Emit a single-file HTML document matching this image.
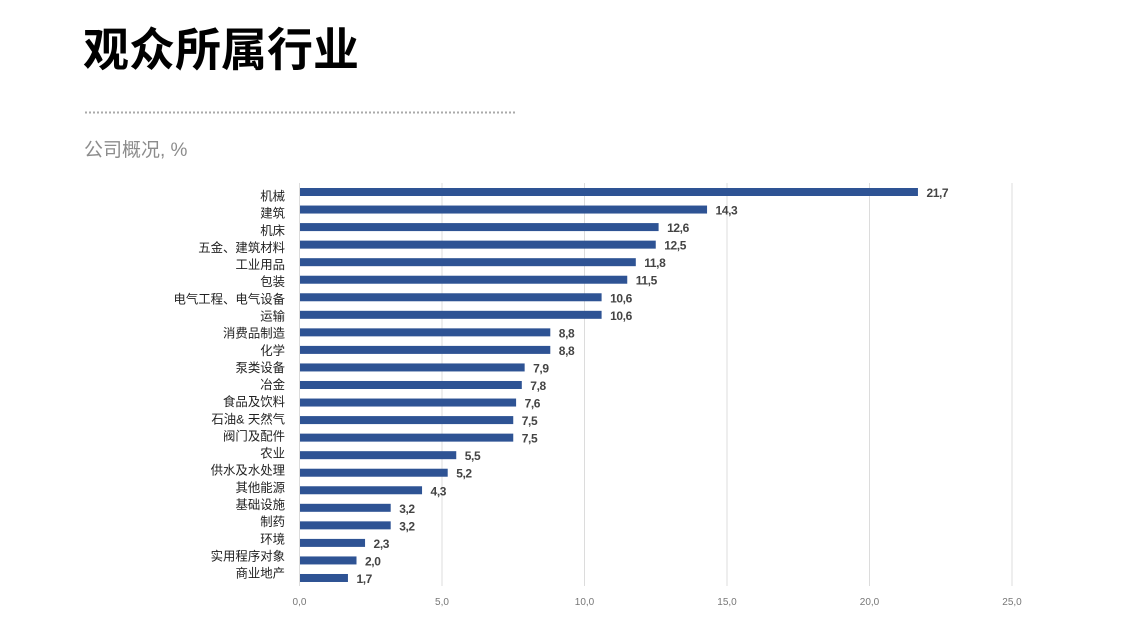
<!DOCTYPE html>
<html><head><meta charset="utf-8"><style>
body{margin:0;width:1126px;height:631px;background:#fff;overflow:hidden}
svg text{font-family:"Liberation Sans","Noto Sans CJK SC",sans-serif}
</style></head><body>
<svg width="1126" height="631" xmlns="http://www.w3.org/2000/svg">
<text x="83" y="66" font-size="46" font-weight="bold" fill="#000">观众所属行业</text>
<line x1="85" y1="112.5" x2="515" y2="112.5" stroke="#aaa" stroke-width="2" stroke-dasharray="2,2"/>
<text x="84" y="156" font-size="19" fill="#8c8c8c">公司概况, %</text>
<g stroke="#dcdcdc" stroke-width="1">
<line x1="442" y1="183" x2="442" y2="586"/>
<line x1="584.5" y1="183" x2="584.5" y2="586"/>
<line x1="727" y1="183" x2="727" y2="586"/>
<line x1="869.5" y1="183" x2="869.5" y2="586"/>
<line x1="1012" y1="183" x2="1012" y2="586"/>
<line x1="299.5" y1="183" x2="299.5" y2="586"/>
</g>
<g font-size="10" fill="#777" text-anchor="middle">
<text x="299.5" y="605">0,0</text><text x="442" y="605">5,0</text><text x="584.5" y="605">10,0</text>
<text x="727" y="605">15,0</text><text x="869.5" y="605">20,0</text><text x="1012" y="605">25,0</text>
</g>
<g id="bars"></g>
</svg>
<script>
const d=[["机械",21.7],["建筑",14.3],["机床",12.6],["五金、建筑材料",12.5],["工业用品",11.8],["包装",11.5],["电气工程、电气设备",10.6],["运输",10.6],["消费品制造",8.8],["化学",8.8],["泵类设备",7.9],["冶金",7.8],["食品及饮料",7.6],["石油& 天然气",7.5],["阀门及配件",7.5],["农业",5.5],["供水及水处理",5.2],["其他能源",4.3],["基础设施",3.2],["制药",3.2],["环境",2.3],["实用程序对象",2.0],["商业地产",1.7]];
let s="";
d.forEach((r,i)=>{const c=192+i*17.545;const ly=196+i*17.14;const w=r[1]*28.5;
s+=`<rect x="300" y="${c-4}" width="${w-0.5}" height="8" fill="#2e5394"/>`;
s+=`<text x="285" y="${ly+4.5}" font-size="12.4" fill="#222" text-anchor="end">${r[0]}</text>`;
s+=`<text x="${300+w+8}" y="${c+5}" font-size="12" font-weight="bold" fill="#444" letter-spacing="-0.4">${r[1].toFixed(1).replace('.',',')}</text>`;});
document.getElementById("bars").innerHTML=s;
</script>
</body></html>
